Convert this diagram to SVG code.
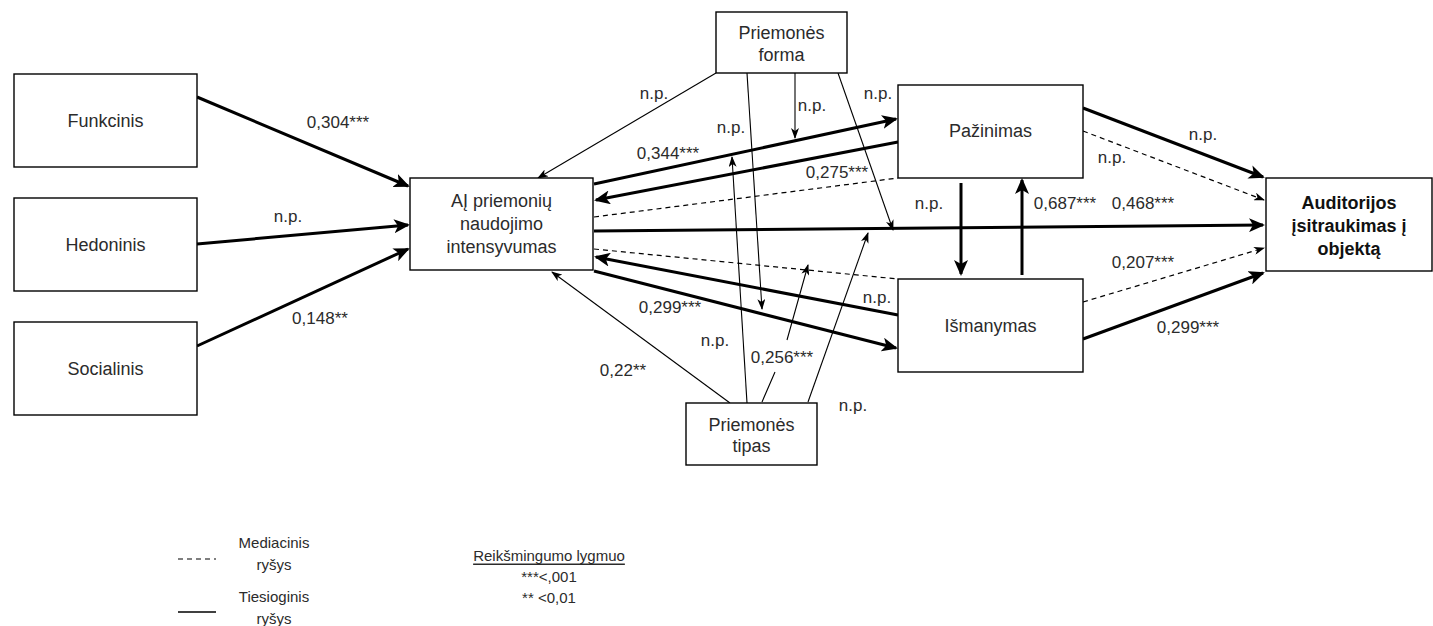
<svg xmlns="http://www.w3.org/2000/svg" width="1433" height="626" viewBox="0 0 1433 626">
<style>
text{font-family:"Liberation Sans",Arial,sans-serif;fill:#2b2b2b;dominant-baseline:central}
.node rect{fill:#fff;stroke:#000;stroke-width:1.4}
.nt{font-size:18px;text-anchor:middle}
.b{font-weight:bold;fill:#111}
.lbl{font-size:17px;text-anchor:middle}
.leg{font-size:15px;text-anchor:middle}
.thick{fill:none;stroke:#000;stroke-width:3}
.thin{fill:none;stroke:#000;stroke-width:1.1}
.dash{fill:none;stroke:#000;stroke-width:1.2;stroke-dasharray:5 4}
.ta{marker-end:url(#ah)}
.sa{marker-end:url(#as)}
</style>
<defs>
<marker id="ah" viewBox="0 0 16 14" refX="14" refY="7" markerWidth="16" markerHeight="14" orient="auto" markerUnits="userSpaceOnUse"><path d="M0,0 L16,7 L0,14 L4,7 Z" fill="#000"/></marker>
<marker id="as" viewBox="0 0 11 8" refX="10" refY="4" markerWidth="11" markerHeight="8" orient="auto" markerUnits="userSpaceOnUse"><path d="M0,0 L11,4 L0,8 L3,4 Z" fill="#000"/></marker>
</defs>

<g id="connectors">
<path class="thick ta" d="M197,97 L408,186"/>
<path class="thick ta" d="M197,244 L408,225"/>
<path class="thick ta" d="M197,346 L408,249"/>
<path class="thick ta" d="M594,184 L896,119"/>
<path class="thick ta" d="M898,142 L596,200"/>
<path class="thick ta" d="M594,231 L1263,225"/>
<path class="thick ta" d="M898,315 L596,257"/>
<path class="thick ta" d="M594,271 L896,348"/>
<path class="thick ta" d="M961,183 L961,274"/>
<path class="thick ta" d="M1022,275 L1022,180"/>
<path class="thick ta" d="M1083,108 L1263,177"/>
<path class="thick ta" d="M1083,339 L1263,273"/>
<path class="dash" d="M594,217 L898,178"/>
<path class="dash" d="M594,249 L898,279"/>
<path class="dash sa" d="M1083,131 L1264,200"/>
<path class="dash sa" d="M1083,302 L1264,248"/>
<path class="thin sa" d="M716,73 L538,178"/>
<path class="thin sa" d="M747,73 L762,309"/>
<path class="thin sa" d="M795,73 L795,138"/>
<path class="thin sa" d="M838,73 L893,230"/>
<path class="thin sa" d="M730,403 L552,272"/>
<path class="thin sa" d="M747,403 L732,157"/>
<path class="thin sa" d="M762,402 L775,372 M787,340 L808,265"/>
<path class="thin sa" d="M808,402 L868,233"/>
</g>

<g id="labels">
<text class="lbl" x="338" y="122">0,304***</text>
<text class="lbl" x="288" y="216">n.p.</text>
<text class="lbl" x="320" y="318">0,148**</text>
<text class="lbl" x="654" y="93">n.p.</text>
<text class="lbl" x="731" y="127">n.p.</text>
<text class="lbl" x="812" y="105">n.p.</text>
<text class="lbl" x="878" y="93">n.p.</text>
<text class="lbl" x="668" y="153">0,344***</text>
<text class="lbl" x="837" y="172">0,275***</text>
<text class="lbl" x="1203" y="134">n.p.</text>
<text class="lbl" x="1112" y="157">n.p.</text>
<text class="lbl" x="929" y="203">n.p.</text>
<text class="lbl" x="1065" y="203">0,687***</text>
<text class="lbl" x="1143" y="203">0,468***</text>
<text class="lbl" x="1143" y="262">0,207***</text>
<text class="lbl" x="1188" y="327">0,299***</text>
<text class="lbl" x="877" y="297">n.p.</text>
<text class="lbl" x="670" y="307">0,299***</text>
<text class="lbl" x="715" y="340">n.p.</text>
<text class="lbl" x="782" y="357">0,256***</text>
<text class="lbl" x="623" y="370">0,22**</text>
<text class="lbl" x="853" y="405">n.p.</text>
</g>

<g id="funkcinis" class="node"><rect x="14" y="74" width="183" height="93"/><text class="nt" x="105.5" y="121">Funkcinis</text></g>
<g id="hedoninis" class="node"><rect x="14" y="198" width="183" height="93"/><text class="nt" x="105.5" y="245">Hedoninis</text></g>
<g id="socialinis" class="node"><rect x="14" y="322" width="183" height="93"/><text class="nt" x="105.5" y="369">Socialinis</text></g>
<g id="ai" class="node"><rect x="410" y="178" width="183" height="92"/><text class="nt"><tspan x="501.5" y="201">AĮ priemonių</tspan><tspan x="501.5" y="224">naudojimo</tspan><tspan x="501.5" y="247">intensyvumas</tspan></text></g>
<g id="forma" class="node"><rect x="716" y="12" width="131" height="61"/><text class="nt"><tspan x="781.5" y="33">Priemonės</tspan><tspan x="781.5" y="55">forma</tspan></text></g>
<g id="tipas" class="node"><rect x="686" y="403" width="131" height="62"/><text class="nt"><tspan x="751.5" y="425">Priemonės</tspan><tspan x="751.5" y="446">tipas</tspan></text></g>
<g id="pazinimas" class="node"><rect x="898" y="85" width="185" height="93"/><text class="nt" x="990.5" y="131">Pažinimas</text></g>
<g id="ismanymas" class="node"><rect x="898" y="279" width="185" height="93"/><text class="nt" x="990.5" y="326">Išmanymas</text></g>
<g id="auditorija" class="node"><rect x="1266" y="178" width="166" height="93"/><text class="nt b"><tspan x="1349" y="203">Auditorijos</tspan><tspan x="1349" y="226">įsitraukimas į</tspan><tspan x="1349" y="249">objektą</tspan></text></g>

<g id="legend">
<path class="dash" d="M178,559 L216,559"/>
<path d="M178,612 L216,612" stroke="#000" stroke-width="1.4"/>
<text class="leg"><tspan x="274" y="542">Mediacinis</tspan><tspan x="274" y="564">ryšys</tspan></text>
<text class="leg"><tspan x="274" y="596">Tiesioginis</tspan><tspan x="274" y="618">ryšys</tspan></text>
<text class="leg" x="549" y="555" text-decoration="underline">Reikšmingumo lygmuo</text>
<text class="leg" x="549" y="576">***&lt;,001</text>
<text class="leg" x="549" y="597">** &lt;0,01</text>
</g>
</svg>
